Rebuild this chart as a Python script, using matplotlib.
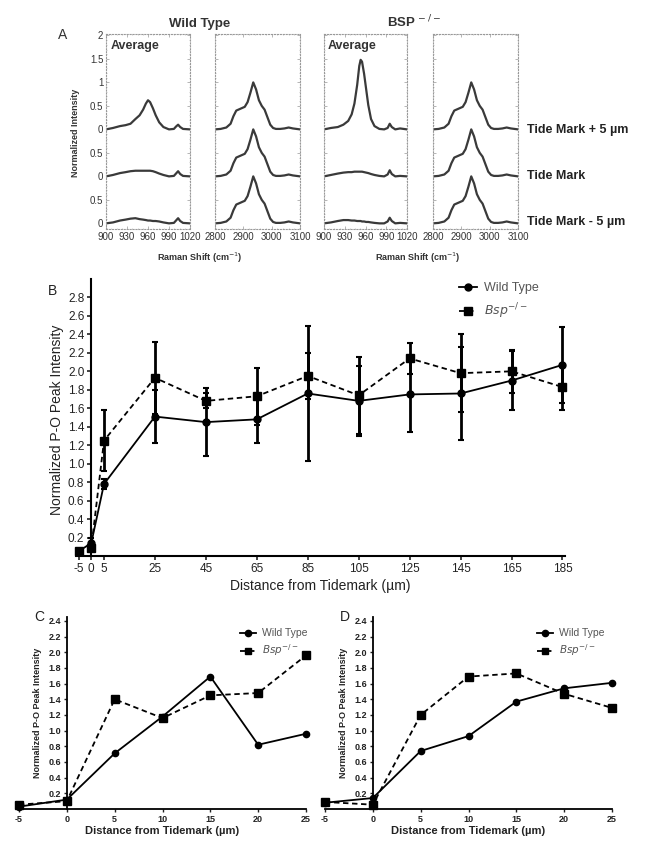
import numpy as np
import matplotlib
matplotlib.use("Agg")
import matplotlib.pyplot as plt
from matplotlib.lines import Line2D

plt.rcParams['font.family'] = ['Liberation Sans', 'DejaVu Sans']
plt.rcParams['axes.unicode_minus'] = False

# ---------------- Panel A: Raman spectra ----------------
wt_po_shift = [900, 910, 920, 928, 935, 942, 948, 953, 957, 960, 963, 967, 971, 976, 982, 990, 997, 1000, 1003, 1006, 1010, 1020]
wt_po_plus5 = [0, .03, .07, .09, .12, .22, .30, .42, .55, .62, .58, .45, .30, .15, .05, 0, .01, .06, .10, .05, .01, 0]
wt_po_tm = [0, .03, .07, .09, .11, .12, .12, .12, .12, .12, .12, .11, .09, .06, .03, 0, .01, .06, .11, .05, .01, 0]
wt_po_minus5 = [0, .02, .06, .08, .10, .11, .09, .08, .07, .06, .06, .05, .05, .04, .02, 0, .01, .06, .11, .05, .01, 0]

bsp_po_shift = [900, 910, 920, 928, 935, 940, 944, 948, 951, 953, 955, 958, 961, 964, 968, 973, 980, 987, 992, 995, 998, 1003, 1010, 1020]
bsp_po_plus5 = [0, .03, .05, .10, .18, .32, .55, .95, 1.35, 1.48, 1.44, 1.18, .85, .52, .22, .07, .01, 0, .03, .12, .05, 0, .02, 0]
bsp_po_tm = [0, .03, .06, .08, .09, .09, .10, .10, .10, .10, .10, .09, .08, .07, .05, .03, .01, 0, .04, .13, .05, 0, .01, 0]
bsp_po_minus5 = [0, .02, .05, .07, .07, .06, .06, .05, .05, .05, .04, .04, .03, .03, .02, .01, 0, 0, .04, .12, .05, 0, .01, 0]

ch_shift = [2800, 2820, 2840, 2855, 2865, 2875, 2890, 2905, 2915, 2925, 2935, 2945, 2955, 2965, 2975, 2985, 2995, 3005, 3015, 3030, 3045, 3060, 3075, 3100]
ch_intensity = [0, .01, .04, .12, .28, .40, .44, .48, .58, .78, 1.0, .85, .62, .50, .42, .26, .10, .03, .01, .01, .02, .04, .02, 0]

offsets = [2, 1, 0]
row_labels = ['Tide Mark + 5 µm', 'Tide Mark', 'Tide Mark - 5 µm']

# ---------------- Panel B: mean +/- SD ----------------
b_dist = [-5, 0, 5, 25, 45, 65, 85, 105, 125, 145, 165, 185]
b_wt = [0.05, 0.14, 0.78, 1.51, 1.45, 1.48, 1.76, 1.68, 1.75, 1.76, 1.90, 2.07]
b_wt_err = [0.0, 0.05, 0.05, 0.29, 0.37, 0.26, 0.73, 0.38, 0.41, 0.50, 0.32, 0.41]
b_bsp = [0.05, 0.09, 1.25, 1.93, 1.68, 1.73, 1.95, 1.74, 2.14, 1.98, 2.00, 1.83]
b_bsp_err = [0.0, 0.03, 0.33, 0.39, 0.08, 0.31, 0.25, 0.42, 0.17, 0.42, 0.23, 0.25]

# ---------------- Panels C, D ----------------
cd_dist = [-5, 0, 5, 10, 15, 20, 25]
c_wt = [0.03, 0.12, 0.71, 1.18, 1.69, 0.82, 0.96]
c_bsp = [0.055, 0.10, 1.40, 1.16, 1.45, 1.48, 1.96]
d_wt = [0.08, 0.14, 0.74, 0.93, 1.37, 1.54, 1.61]
d_bsp = [0.09, 0.055, 1.20, 1.69, 1.73, 1.47, 1.29]

W, H = 645, 857
fig = plt.figure(figsize=(W / 100, H / 100), dpi=100)
DASH = (0, (3, 2))


def px_axes(x0, y0, x1, y1):
    # axes from pixel box (top-left origin)
    return fig.add_axes([x0 / W, 1 - y1 / H, (x1 - x0) / W, (y1 - y0) / H])


def style_spectrum_axes(ax, left_labels):
    for s in ax.spines.values():
        s.set_linestyle(':')
        s.set_color('#999999')
        s.set_linewidth(0.8)
    ax.tick_params(direction='in', length=2, width=0.5, color='#999999',
                   labelsize=7, labelcolor='#333333', top=True, right=True, pad=2)
    ax.set_ylim(-0.12, 4.03)
    ax.set_yticks([0, 0.5, 1, 1.5, 2, 2.5, 3, 3.5, 4])
    if left_labels:
        ax.set_yticklabels(['0', '0.5', '0', '0.5', '0', '0.5', '1', '1.5', '2'])
    else:
        ax.set_yticklabels([])
    ax.minorticks_on()
    ax.tick_params(which='minor', direction='in', length=1, width=0.4, color='#aaaaaa',
                   top=True, right=True)


spec_color = '#3a3a3a'
panels = [
    ('wt', 106, 190, 215, 300, wt_po_shift, [wt_po_plus5, wt_po_tm, wt_po_minus5]),
    ('bsp', 324, 407, 433, 518, bsp_po_shift, [bsp_po_plus5, bsp_po_tm, bsp_po_minus5]),
]
for name, l0, l1, r0, r1, po_x, po_curves in panels:
    ax_po = px_axes(l0, 34, l1, 229)
    ax_ch = px_axes(r0, 34, r1, 229)
    for off, curve in zip(offsets, po_curves):
        ax_po.plot(po_x, np.array(curve) + off, color=spec_color, lw=1.6, solid_joinstyle='round')
        ax_ch.plot(ch_shift, np.array(ch_intensity) + off, color=spec_color, lw=1.6, solid_joinstyle='round')
    style_spectrum_axes(ax_po, name == 'wt')
    style_spectrum_axes(ax_ch, False)
    ax_po.set_xlim(900, 1020)
    ax_po.set_xticks([900, 930, 960, 990, 1020])
    ax_ch.set_xlim(2800, 3100)
    ax_ch.set_xticks([2800, 2900, 3000, 3100])
    ax_po.text(0.05, 0.97, 'Average', transform=ax_po.transAxes, fontsize=9,
               fontweight='bold', color='#333333', va='top', ha='left')
    fig.text(((l0 + r1) / 2 - 3) / W, 1 - 258 / H, 'Raman Shift (cm$^{-1}$)', fontsize=6.5,
             fontweight='bold', ha='center', va='center', color='#333333')

fig.text(200 / W, 1 - 24 / H, 'Wild Type', fontsize=9.5, fontweight='bold', ha='center', va='center', color='#333333')
fig.text(414 / W, 1 - 22 / H, r'BSP$^{\,-/-}$', fontsize=9.5, fontweight='bold', ha='center', va='center', color='#333333')
fig.text(58 / W, 1 - 35 / H, 'A', fontsize=10, ha='left', va='center', color='#333333')
fig.text(76 / W, 1 - 133 / H, 'Normalized Intensity', fontsize=6.5, fontweight='bold',
         rotation=90, ha='center', va='center', color='#333333')
for lab, yy in zip(row_labels, [130, 176, 222]):
    fig.text(527 / W, 1 - yy / H, lab, fontsize=9, fontweight='bold', ha='left', va='center', color='#222222')

# ---------------- Panel B ----------------
axB = px_axes(76, 279, 565, 556)
axB.errorbar(b_dist, b_wt, yerr=b_wt_err, color='black', ls='-', lw=1.3, marker='o',
             ms=5, capsize=2.5, elinewidth=2, capthick=1.5, clip_on=False, zorder=3)
axB.errorbar(b_dist, b_bsp, yerr=b_bsp_err, color='black', ls=DASH, lw=1.3, marker='s',
             ms=5.5, capsize=2.5, elinewidth=2, capthick=1.5, clip_on=False, zorder=3)
axB.set_xlim(-6, 186)
axB.set_ylim(0, 3.0)
axB.spines['left'].set_position(('data', 0))
axB.spines['top'].set_visible(False)
axB.spines['right'].set_visible(False)
for s in ['left', 'bottom']:
    axB.spines[s].set_linewidth(1.5)
axB.set_xticks([-5, 0, 5, 25, 45, 65, 85, 105, 125, 145, 165, 185])
axB.set_yticks(np.arange(0.2, 2.81, 0.2))
axB.set_yticklabels([f'{v:.1f}' for v in np.arange(0.2, 2.81, 0.2)])
axB.tick_params(labelsize=8.5, length=3, width=1.2, pad=2, colors='#222222')
fig.text(320 / W, 1 - 586 / H, 'Distance from Tidemark (µm)', fontsize=10, ha='center', va='center', color='#222222')
fig.text(57 / W, 1 - 420 / H, 'Normalized P-O Peak Intensity', fontsize=10, rotation=90,
         ha='center', va='center', color='#222222')
fig.text(48 / W, 1 - 291 / H, 'B', fontsize=10, ha='left', va='center', color='#222222')

leg_handles = [
    Line2D([], [], color='black', ls='-', marker='o', ms=5, lw=1.3),
    Line2D([], [], color='black', ls=DASH, marker='s', ms=5.5, lw=1.3),
]
fig.legend(leg_handles, ['Wild Type', r'$Bsp^{-/-}$'], loc='upper left',
           bbox_to_anchor=(448 / W, 1 - 271 / H), frameon=False, fontsize=9,
           handlelength=1.4, handletextpad=0.6, labelspacing=0.6, labelcolor='#555555')

# ---------------- Panels C and D ----------------
for letter, x0, x1, wt_vals, bsp_vals, leg_x in [
    ('C', 19, 306, c_wt, c_bsp, 231),
    ('D', 325, 612, d_wt, d_bsp, 528),
]:
    ax = px_axes(x0, 617, x1, 809)
    ax.plot(cd_dist, wt_vals, color='black', ls='-', lw=1.3, marker='o', ms=4.5, clip_on=False, zorder=3)
    ax.plot(cd_dist, bsp_vals, color='black', ls=DASH, lw=1.3, marker='s', ms=5.5, clip_on=False, zorder=3)
    ax.set_xlim(-5, 25)
    ax.set_ylim(0, 2.45)
    ax.spines['left'].set_position(('data', 0))
    ax.spines['top'].set_visible(False)
    ax.spines['right'].set_visible(False)
    for s in ['left', 'bottom']:
        ax.spines[s].set_linewidth(1.3)
    ax.set_xticks(cd_dist)
    yt = np.arange(0.2, 2.41, 0.2)
    ax.set_yticks(yt)
    ax.set_yticklabels([f'{v:.1f}' for v in yt])
    ax.tick_params(labelsize=6.5, length=2.5, width=1, pad=1.5, colors='#222222')
    for t in ax.get_xticklabels() + ax.get_yticklabels():
        t.set_fontweight('bold')
    ax.set_xlabel('Distance from Tidemark (µm)', fontsize=8, fontweight='bold', color='#222222', labelpad=2)
    fig.text((x0 + 18) / W, 1 - 713 / H, 'Normalized P-O Peak Intensity', fontsize=6.5, fontweight='bold',
             rotation=90, ha='center', va='center', color='#222222')
    fig.text((x0 + 15) / W, 1 - 617 / H, letter, fontsize=10, ha='left', va='center', color='#222222')
    small_handles = [
        Line2D([], [], color='black', ls='-', marker='o', ms=4.5, lw=1.3),
        Line2D([], [], color='black', ls=DASH, marker='s', ms=5, lw=1.3),
    ]
    fig.legend(small_handles, ['Wild Type', r'$Bsp^{-/-}$'], loc='upper left',
               bbox_to_anchor=(leg_x / W, 1 - 619 / H), frameon=False, fontsize=7.5,
               handlelength=1.5, handletextpad=0.6, labelspacing=0.4, labelcolor='#555555')

fig.savefig('out.png', dpi=100)
